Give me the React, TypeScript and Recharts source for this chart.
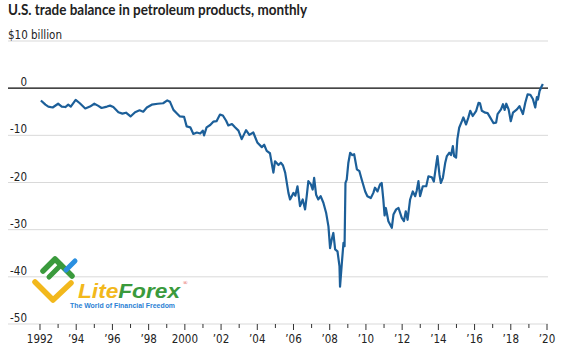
import { CartesianGrid, Line, LineChart, ReferenceLine, XAxis, YAxis } from 'recharts'

// month position as a decimal year
const period = [
  1992.05, 1992.3, 1992.46, 1992.7, 1993.0, 1993.2, 1993.4, 1993.56, 1993.7, 1993.97,
  1994.2, 1994.5, 1994.76, 1995.0, 1995.2, 1995.4, 1995.7, 1995.87, 1996.05, 1996.33,
  1996.55, 1996.75, 1997.0, 1997.25, 1997.5, 1997.7, 1997.9, 1998.17, 1998.5, 1998.8,
  1999.03, 1999.18, 1999.37, 1999.55, 1999.73, 1999.96, 2000.1, 2000.3, 2000.47, 2000.66,
  2000.85, 2000.99, 2001.06, 2001.2, 2001.4, 2001.57, 2001.75, 2001.94, 2002.1, 2002.28,
  2002.4, 2002.6, 2002.77, 2002.96, 2003.14, 2003.38, 2003.56, 2003.78, 2004.0, 2004.25,
  2004.38, 2004.52, 2004.7, 2004.89, 2004.98, 2005.17, 2005.3, 2005.42, 2005.54, 2005.72,
  2005.81, 2006.0, 2006.1, 2006.22, 2006.36, 2006.51, 2006.64, 2006.73, 2006.82, 2006.96,
  2007.06, 2007.14, 2007.25, 2007.37, 2007.5, 2007.65, 2007.8, 2007.93, 2008.02, 2008.11,
  2008.2, 2008.3, 2008.43, 2008.54, 2008.57, 2008.67, 2008.76, 2008.82, 2008.87, 2008.94,
  2009.03, 2009.13, 2009.25, 2009.35, 2009.5, 2009.64, 2009.77, 2009.96, 2010.08, 2010.27,
  2010.41, 2010.5, 2010.64, 2010.78, 2010.87, 2010.96, 2011.03, 2011.1, 2011.24, 2011.43,
  2011.52, 2011.67, 2011.8, 2011.98, 2012.1, 2012.2, 2012.3, 2012.44, 2012.59, 2012.72,
  2012.8, 2012.9, 2012.99, 2013.14, 2013.33, 2013.45, 2013.64, 2013.75, 2013.88, 2013.95,
  2014.06, 2014.14, 2014.25, 2014.38, 2014.47, 2014.6, 2014.7, 2014.8, 2014.87, 2014.98,
  2015.05, 2015.15, 2015.3, 2015.38, 2015.53, 2015.66, 2015.76, 2015.9, 2016.09, 2016.22,
  2016.3, 2016.4, 2016.59, 2016.72, 2016.86, 2017.04, 2017.19, 2017.27, 2017.46, 2017.57,
  2017.66, 2017.75, 2017.88, 2018.0, 2018.12, 2018.34, 2018.48, 2018.67, 2018.8, 2018.93,
  2019.08, 2019.22, 2019.35, 2019.44, 2019.5, 2019.59, 2019.68, 2019.77,
]

// trade balance, $ billion
const balance = [
  -2.6, -3.5, -3.9, -4.1, -3.3, -3.9, -4.0, -3.5, -3.9, -2.5,
  -3.2, -4.3, -3.9, -3.3, -3.7, -4.2, -3.9, -3.7, -4.0, -5.1,
  -5.4, -5.2, -6.0, -5.1, -4.7, -5.0, -4.1, -3.5, -3.3, -3.2,
  -2.6, -2.9, -4.6, -5.3, -6.0, -6.1, -8.1, -8.3, -9.7, -9.4,
  -9.6, -9.0, -10.0, -8.3, -7.8, -7.1, -7.0, -5.6, -5.8, -6.9,
  -7.9, -7.6, -8.3, -9.0, -10.8, -8.9, -9.9, -9.4, -11.5, -12.5,
  -12.0, -13.3, -13.8, -17.9, -15.5, -16.3, -15.8, -16.4, -17.9, -22.2,
  -23.6, -22.2, -22.8, -20.8, -25.0, -23.6, -25.7, -22.9, -19.7, -20.4,
  -21.5, -19.0, -22.6, -23.6, -22.9, -24.3, -26.4, -29.3, -33.9, -32.1,
  -30.7, -34.2, -34.6, -37.8, -42.1, -37.1, -32.8, -33.5, -20.1, -19.4,
  -15.8, -13.7, -14.2, -14.0, -17.2, -17.6, -19.4, -21.9, -22.9, -23.3,
  -22.2, -21.1, -21.9, -20.4, -20.1, -23.6, -27.0, -25.4, -28.2, -29.6,
  -26.8, -25.7, -25.4, -27.5, -28.2, -26.1, -27.9, -23.6, -21.9, -22.9,
  -21.8, -19.7, -22.9, -20.8, -20.8, -18.7, -18.9, -19.8, -16.2, -14.4,
  -18.3, -20.1, -19.0, -15.8, -14.4, -13.7, -14.2, -12.3, -14.4, -14.7,
  -10.8, -8.4, -7.0, -6.2, -7.7, -6.2, -4.8, -5.9, -4.8, -3.1,
  -3.2, -4.8, -5.2, -5.3, -6.2, -7.4, -7.3, -5.5, -4.5, -3.4,
  -4.6, -3.3, -4.5, -7.0, -5.2, -4.5, -3.8, -5.5, -3.1, -1.3,
  -1.4, -2.3, -4.1, -1.9, -2.4, -0.6, 0.2, 0.9,
]

const yearTicks = [
  1992, 1993, 1994, 1995, 1996, 1997, 1998, 1999, 2000, 2001, 2002, 2003, 2004, 2005,
  2006, 2007, 2008, 2009, 2010, 2011, 2012, 2013, 2014, 2015, 2016, 2017, 2018, 2019, 2020,
]
const yearLabels: Record<number, string> = {
  1992: '1992', 1994: '\u201994', 1996: '\u201996', 1998: '\u201998', 2000: '2000',
  2002: '\u201902', 2004: '\u201904', 2006: '\u201906', 2008: '\u201908', 2010: '\u201910',
  2012: '\u201912', 2014: '\u201914', 2016: '\u201916', 2018: '\u201918', 2020: '\u201920',
}
const valueTicks = [-50, -40, -30, -20, -10, 0, 10]

const rows = period.map((t, i) => ({ t, value: balance[i] }))

const NARROW = '"DejaVu Sans Condensed", "Liberation Sans Narrow", Roboto, sans-serif'

function renderYearTick(props: any) {
  const { x, y, payload } = props
  const label = yearLabels[payload.value]
  return (
    <g key={`yt-${payload.value}`}>
      <line x1={x} x2={x} y1={y} y2={y + (label ? 6 : 4)} stroke="#333" strokeWidth={1} />
      {label && (
        <text x={x} y={y + 18.5} textAnchor="middle" fontSize={11.5} fontFamily={NARROW} fill="#222">
          {label}
        </text>
      )}
    </g>
  )
}

function renderValueTick(props: any) {
  const { x, y, payload } = props
  const v = payload.value
  if (v === 10) {
    return (
      <text key="vt-top" x={x} y={y - 2} textAnchor="start" fontSize={11.5} fontFamily={NARROW} fill="#222">
        $10 billion
      </text>
    )
  }
  return (
    <text key={`vt-${v}`} x={x + 19} y={y - 2} textAnchor="end" fontSize={11.5} fontFamily={NARROW} fill="#222">
      {v}
    </text>
  )
}

function Overlay() {
  return (
    <svg
      width={579}
      height={353}
      style={{ position: 'absolute', left: 0, top: 0, pointerEvents: 'none' }}
    >
      <text
        x={8}
        y={14.5}
        fontSize={15}
        fontWeight="bold"
        fontFamily="Lato, Roboto, sans-serif"
        fill="#222"
        textLength={299}
        lengthAdjust="spacingAndGlyphs"
      >
        U.S. trade balance in petroleum products, monthly
      </text>
      <polyline points="35,282 53,300 71,283" fill="none" stroke="#f2b81c" strokeWidth={5.5} strokeLinecap="round" strokeLinejoin="round" />
      <polyline points="43,271 55,259 72,276" fill="none" stroke="#3a9a3c" strokeWidth={5.5} strokeLinecap="round" strokeLinejoin="round" />
      <line x1={49} y1={277} x2={61} y2={265} stroke="#3a9a3c" strokeWidth={5} strokeLinecap="round" />
      <line x1={66} y1={270} x2={75} y2={261} stroke="#2a8fe0" strokeWidth={5} strokeLinecap="round" />
      <text
        x={78}
        y={298}
        fontSize={21}
        fontWeight="bold"
        fontStyle="italic"
        fontFamily='"Liberation Sans", Arial, sans-serif'
        textLength={102}
        lengthAdjust="spacingAndGlyphs"
      >
        <tspan fill="#f2b81c">Lite</tspan>
        <tspan fill="#3a9a3c">Forex</tspan>
      </text>
      <text x={183} y={285} fontSize={6} fill="#d33">®</text>
      <text
        x={70}
        y={307.5}
        fontSize={8}
        fontWeight="bold"
        fontFamily='"Liberation Sans", Arial, sans-serif'
        fill="#2a7fd4"
        textLength={105}
        lengthAdjust="spacingAndGlyphs"
      >
        The World of Financial Freedom
      </text>
    </svg>
  )
}

export default function App() {
  return (
    <div style={{ position: 'absolute', left: 0, top: 0, width: 579, height: 353, background: '#fff' }}>
      <LineChart width={579} height={353} data={rows} margin={{ top: 41, right: 31, bottom: 0, left: 7 }}>
        <CartesianGrid vertical={false} stroke="#d9d9d9" strokeWidth={1} />
        <XAxis
          dataKey="t"
          type="number"
          domain={[1990.233, 2020.055]}
          allowDataOverflow
          ticks={yearTicks}
          interval={0}
          height={29}
          axisLine={false}
          tickLine={false}
          tickSize={0}
          tickMargin={0}
          tick={renderYearTick}
        />
        <YAxis
          type="number"
          domain={[-50, 10]}
          ticks={valueTicks}
          interval={0}
          width={1}
          axisLine={false}
          tickLine={false}
          tickSize={0}
          tickMargin={0}
          tick={renderValueTick}
        />
        <ReferenceLine y={0} stroke="#111" strokeWidth={1.2} />
        <Line
          dataKey="value"
          type="linear"
          stroke="#1c5f99"
          strokeWidth={2.2}
          strokeLinejoin="round"
          dot={false}
          isAnimationActive={false}
        />
      </LineChart>
      <Overlay />
    </div>
  )
}
